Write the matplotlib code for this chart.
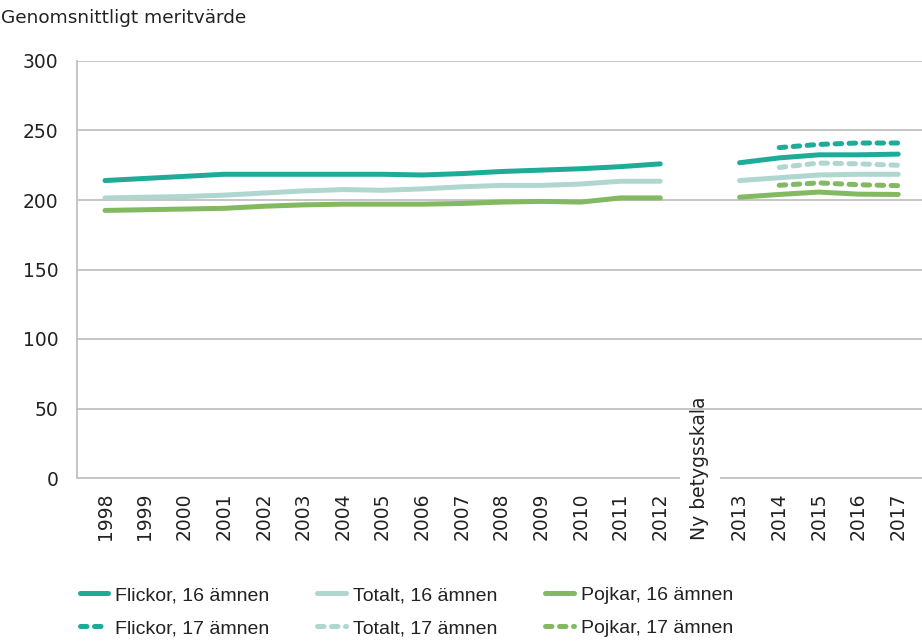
import numpy as np
import matplotlib
matplotlib.use('Agg')
import matplotlib.pyplot as plt
from matplotlib.lines import Line2D

# kategorier på x-axeln (gammal skala, brytpunkt, ny skala)
years_old = ['1998', '1999', '2000', '2001', '2002', '2003', '2004', '2005',
             '2006', '2007', '2008', '2009', '2010', '2011', '2012']
break_label = 'Ny betygsskala'
years_new = ['2013', '2014', '2015', '2016', '2017']
categories = years_old + [break_label] + years_new

# 16 ämnen, 1998-2012
flickor16_old = [214, 215.5, 217, 218.5, 218.5, 218.5, 218.5, 218.5, 218, 219, 220.5, 221.5, 222.5, 224, 226]
totalt16_old = [201.5, 202, 202.5, 203.5, 205, 206.5, 207.5, 207, 208, 209.5, 210.5, 210.5, 211.5, 213.5, 213.5]
pojkar16_old = [192.5, 193, 193.5, 194, 195.5, 196.5, 197, 197, 197, 197.5, 198.5, 199, 198.5, 201.5, 201.5]

# 16 ämnen, 2013-2017
flickor16_new = [226.8, 230.3, 232.5, 232.5, 233]
totalt16_new = [214, 216, 218, 218.5, 218.5]
pojkar16_new = [202, 204, 205.7, 204.2, 204]

# 17 ämnen, 2014-2017 (inget värde 2013)
flickor17_new = [np.nan, 237.7, 240, 241, 241]
totalt17_new = [np.nan, 223.4, 226.6, 226, 225]
pojkar17_new = [np.nan, 210.6, 212.3, 211, 210.3]

yticks = [0, 50, 100, 150, 200, 250, 300]

c_flickor = '#1fab98'
c_totalt = '#afd7d0'
c_pojkar = '#83b961'
c_grid = '#c0c0c0'
c_text = '#222222'
lw = 3.6

fig = plt.figure(figsize=(9.22, 6.43), dpi=100)
ax = fig.add_axes([77 / 922, 1 - 478 / 643, 1 - 77 / 922, 417 / 643])

x = np.arange(len(categories))
x_old = x[:len(years_old)]
x_new = x[len(years_old) + 1:]


def full(old, new):
    """sätt ihop serien med ett hål vid brytpunkten"""
    return list(old) + [np.nan] + list(new)


solid = dict(lw=lw, solid_capstyle='round', solid_joinstyle='round')
dashed = dict(lw=lw, dashes=(1.3, 1.5), dash_capstyle='round')

ax.plot(x, full(totalt16_old, totalt16_new), color=c_totalt, **solid)
ax.plot(x, full(pojkar16_old, pojkar16_new), color=c_pojkar, **solid)
ax.plot(x, full(flickor16_old, flickor16_new), color=c_flickor, **solid)
ax.plot(x_new, totalt17_new, color=c_totalt, **dashed)
ax.plot(x_new, pojkar17_new, color=c_pojkar, **dashed)
ax.plot(x_new, flickor17_new, color=c_flickor, **dashed)

ax.set_xlim(-0.706, 20.6)
ax.set_ylim(0, 300)
ax.set_yticks(yticks)
ax.set_yticklabels([str(v) for v in yticks], fontsize=13.5, family='DejaVu Sans', color=c_text)
ax.tick_params(axis='y', length=0, pad=13.5)
ax.set_xticks([])
ax.grid(axis='y', color=c_grid, lw=1.3)
ax.get_ygridlines()[0].set_visible(False)
ax.set_axisbelow(True)
for s in ['top', 'right', 'bottom']:
    ax.spines[s].set_visible(False)
ax.spines['left'].set_color(c_grid)
ax.spines['left'].set_linewidth(1.3)

# nollinjen med ett avbrott vid brytpunkten
ax.hlines(0, -0.706, len(years_old) - 0.5, color=c_grid, lw=1.3, clip_on=False)
ax.hlines(0, len(years_old) + 0.5, 20.6, color=c_grid, lw=1.3, clip_on=False)

# kategorietiketter, lodräta och bottenjusterade
tr = ax.get_xaxis_transform()
for xi, lab in zip(x, categories):
    ax.text(xi, -62 / 417, lab, transform=tr, rotation=90, ha='center', va='bottom',
            fontsize=13.5, family='DejaVu Sans', color=c_text)

fig.text(1 / 922, 1 - 18 / 643, 'Genomsnittligt meritvärde', ha='left', va='center',
         fontsize=13.3, family='DejaVu Sans', color=c_text)

# förklaring
handles = [
    Line2D([], [], color=c_flickor, **solid),
    Line2D([], [], color=c_flickor, **dashed),
    Line2D([], [], color=c_totalt, **solid),
    Line2D([], [], color=c_totalt, **dashed),
    Line2D([], [], color=c_pojkar, **solid),
    Line2D([], [], color=c_pojkar, **dashed),
]
labels = ['Flickor, 16 ämnen', 'Flickor, 17 ämnen', 'Totalt, 16 ämnen',
          'Totalt, 17 ämnen', 'Pojkar, 16 ämnen', 'Pojkar, 17 ämnen']
leg = fig.legend(handles, labels, ncol=3, loc='upper left',
                 bbox_to_anchor=(62 / 922, 1 - 569 / 643), frameon=False,
                 prop={'family': 'Liberation Sans', 'size': 14},
                 handlelength=1.45, handletextpad=0.4, columnspacing=2.45, labelspacing=0.8)
for t in leg.get_texts():
    t.set_color(c_text)

fig.savefig('out.png', dpi=100)
